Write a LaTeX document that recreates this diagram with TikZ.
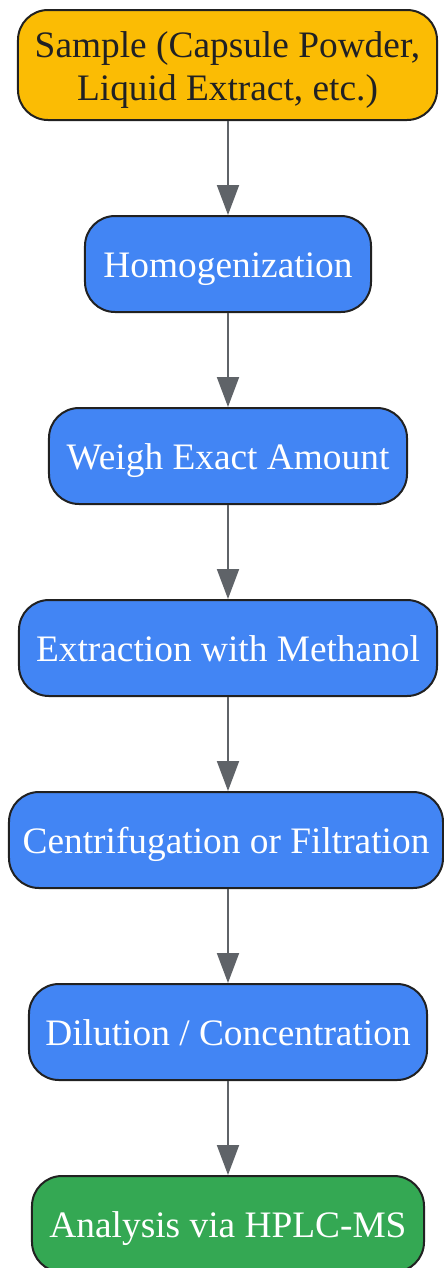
\documentclass[tikz,border=0pt]{standalone}
\usepackage{fontspec}
\setmainfont{Liberation Serif}
\usetikzlibrary{arrows.meta}
\definecolor{cOrange}{HTML}{FBBC04}
\definecolor{cBlue}{HTML}{4285F4}
\definecolor{cGreen}{HTML}{34A853}
\definecolor{cBorder}{HTML}{212121}
\definecolor{cArrow}{HTML}{5F6368}
\definecolor{cText}{HTML}{202124}
\begin{document}
\begin{tikzpicture}[x=1bp,y=-1bp,
  stepbox/.style={draw=cBorder, line width=2bp, rounded corners=30bp, inner sep=0pt,
    minimum height=96bp, text=white, align=center, text height=27bp, text depth=0bp,
    font=\fontsize{37.5}{43}\selectfont},
  flow/.style={draw=cArrow, line width=2bp, -{Triangle[width=22bp,length=30bp]}}]
\useasboundingbox (0,0) rectangle (444,1268);
\node[stepbox, fill=cOrange, text=cText, minimum width=419bp, minimum height=110bp, text height=70bp] (n1) at (227.5,65) {Sample (Capsule Powder,\\Liquid Extract, etc.)};
\node[stepbox, fill=cBlue, minimum width=286bp] (n2) at (228,264) {Homogenization};
\node[stepbox, fill=cBlue, minimum width=358bp] (n3) at (228,456) {Weigh Exact Amount};
\node[stepbox, fill=cBlue, minimum width=418bp] (n4) at (228,648) {Extraction with Methanol};
\node[stepbox, fill=cBlue, minimum width=434bp] (n5) at (226,840) {Centrifugation or Filtration};
\node[stepbox, fill=cBlue, minimum width=398bp] (n6) at (228,1032) {Dilution / Concentration};
\node[stepbox, fill=cGreen, minimum width=392bp] (n7) at (228,1224) {Analysis via HPLC-MS};
\draw[flow] (n1.south -| n2.north) -- (n2.north);
\draw[flow] (n2.south) -- (n3.north);
\draw[flow] (n3.south) -- (n4.north);
\draw[flow] (n4.south) -- (n4.south |- n5.north);
\draw[flow] (n5.south -| n6.north) -- (n6.north);
\draw[flow] (n6.south) -- (n7.north);
\end{tikzpicture}
\end{document}
